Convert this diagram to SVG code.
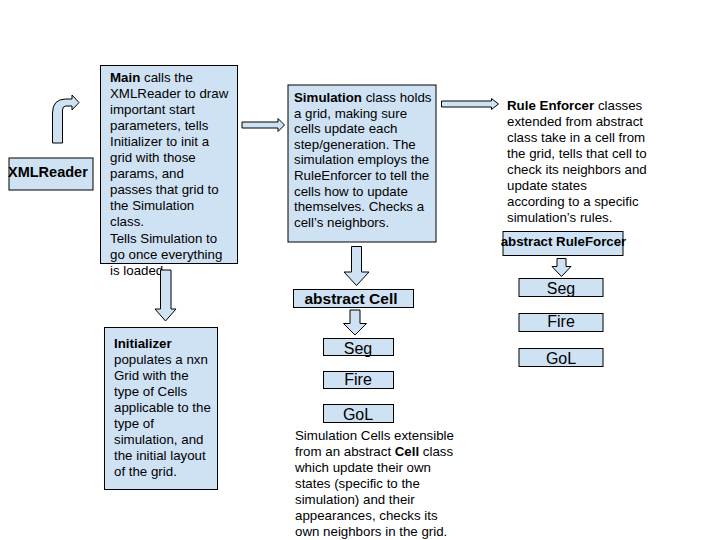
<svg xmlns="http://www.w3.org/2000/svg" width="720" height="540" viewBox="0 0 720 540">
<style>
  .box { fill: #cfe2f3; stroke: #000; stroke-width: 1; }
  .arrow { fill: #cfe2f3; stroke: #000; stroke-width: 1; stroke-linejoin: miter; }
  text { font-family: "Liberation Sans", Arial, sans-serif; fill: #000; }
  .t13 { font-size: 13.3px; }
  .b { font-weight: bold; }
  .lbl { font-size: 16px; text-anchor: middle; }
  .blbl { font-size: 14.5px; font-weight: bold; }
</style>
<rect x="0" y="0" width="720" height="540" fill="#fff"/>

<g id="xmlreader">
  <rect class="box" x="9" y="158" width="84" height="32"/>
  <text class="blbl" x="8" y="177">XMLReader</text>
</g>

<g id="main">
  <rect class="box" x="100.5" y="65.5" width="137" height="198"/>
  <text class="t13">
    <tspan x="110" y="82"><tspan class="b">Main</tspan> calls the</tspan>
    <tspan x="110" y="98">XMLReader to draw</tspan>
    <tspan x="110" y="114">important start</tspan>
    <tspan x="110" y="130">parameters, tells</tspan>
    <tspan x="110" y="146">Initializer to init a</tspan>
    <tspan x="110" y="162">grid with those</tspan>
    <tspan x="110" y="178">params, and</tspan>
    <tspan x="110" y="194">passes that grid to</tspan>
    <tspan x="110" y="210">the Simulation</tspan>
    <tspan x="110" y="226">class.</tspan>
    <tspan x="110" y="243">Tells Simulation to</tspan>
    <tspan x="110" y="259">go once everything</tspan>
    <tspan x="110" y="275">is loaded</tspan>
  </text>
</g>

<g id="simulation">
  <rect class="box" x="288" y="85" width="148" height="157"/>
  <text class="t13">
    <tspan x="294" y="102"><tspan class="b">Simulation</tspan> class holds</tspan>
    <tspan x="294" y="117.5">a grid, making sure</tspan>
    <tspan x="294" y="133">cells update each</tspan>
    <tspan x="294" y="148.5">step/generation. The</tspan>
    <tspan x="294" y="164">simulation employs the</tspan>
    <tspan x="294" y="180">RuleEnforcer to tell the</tspan>
    <tspan x="294" y="195.5">cells how to update</tspan>
    <tspan x="294" y="211">themselves. Checks a</tspan>
    <tspan x="294" y="227">cell’s neighbors.</tspan>
  </text>
</g>

<g id="rule-enforcer-text">
  <text class="t13">
    <tspan x="507" y="110"><tspan class="b">Rule Enforcer</tspan> classes</tspan>
    <tspan x="507" y="126">extended from abstract</tspan>
    <tspan x="507" y="142">class take in a cell from</tspan>
    <tspan x="507" y="158">the grid, tells that cell to</tspan>
    <tspan x="507" y="174">check its neighbors and</tspan>
    <tspan x="507" y="190">update states</tspan>
    <tspan x="507" y="206">according to a specific</tspan>
    <tspan x="507" y="222">simulation’s rules.</tspan>
  </text>
</g>

<g id="abstract-ruleforcer">
  <rect class="box" x="503" y="231.5" width="120" height="24"/>
  <text class="t13 b" x="563.5" y="245.5" text-anchor="middle">abstract RuleForcer</text>
</g>

<g id="rf-seg">
  <rect class="box" x="519" y="278.5" width="84" height="18"/>
  <text class="lbl" x="561" y="293.5">Seg</text>
</g>
<g id="rf-fire">
  <rect class="box" x="519" y="313.5" width="84" height="18"/>
  <text class="lbl" x="561" y="327">Fire</text>
</g>
<g id="rf-gol">
  <rect class="box" x="519" y="348.5" width="84" height="18"/>
  <text class="lbl" x="561" y="364">GoL</text>
</g>

<g id="abstract-cell">
  <rect class="box" x="293.5" y="289.5" width="120" height="18"/>
  <text class="b" x="351" y="304" font-size="15.5" text-anchor="middle">abstract Cell</text>
</g>

<g id="cell-seg">
  <rect class="box" x="323.5" y="338.5" width="70" height="17"/>
  <text class="lbl" x="358" y="353.5">Seg</text>
</g>
<g id="cell-fire">
  <rect class="box" x="323.5" y="371.5" width="70" height="17"/>
  <text class="lbl" x="358" y="385">Fire</text>
</g>
<g id="cell-gol">
  <rect class="box" x="323.5" y="404.5" width="70" height="18"/>
  <text class="lbl" x="358" y="420">GoL</text>
</g>

<g id="initializer">
  <rect class="box" x="104.5" y="327.5" width="113" height="162"/>
  <text class="t13">
    <tspan x="114" y="348" class="b">Initializer</tspan>
    <tspan x="114" y="364">populates a nxn</tspan>
    <tspan x="114" y="380">Grid with the</tspan>
    <tspan x="114" y="396">type of Cells</tspan>
    <tspan x="114" y="412">applicable to the</tspan>
    <tspan x="114" y="428">type of</tspan>
    <tspan x="114" y="444">simulation, and</tspan>
    <tspan x="114" y="460">the initial layout</tspan>
    <tspan x="114" y="476">of the grid.</tspan>
  </text>
</g>

<g id="cells-note">
  <text class="t13">
    <tspan x="295" y="440">Simulation Cells extensible</tspan>
    <tspan x="295" y="456">from an abstract <tspan class="b">Cell</tspan> class</tspan>
    <tspan x="295" y="472">which update their own</tspan>
    <tspan x="295" y="488">states (specific to the</tspan>
    <tspan x="295" y="504">simulation) and their</tspan>
    <tspan x="295" y="520">appearances, checks its</tspan>
    <tspan x="295" y="536">own neighbors in the grid.</tspan>
  </text>
</g>

<g id="connectors">
  <path class="arrow" d="M52.5 143 L52.5 113 Q52.5 99 66 99 L72 99 L72 95 L79 102.5 L72 110 L72 106 L66 106 Q62.5 106 62.5 110 L62.5 143 Z"/>
  <path class="arrow" d="M242 122 L278 122 L278 118.5 L284.5 125 L278 131.5 L278 128 L242 128 Z"/>
  <path class="arrow" d="M441.5 101 L491.5 101 L491.5 98.5 L498.5 104 L491.5 109.5 L491.5 107 L441.5 107 Z"/>
  <path class="arrow" d="M160.5 270 L171 270 L171 309 L176 309 L165.5 321 L155 309 L160.5 309 Z"/>
  <path class="arrow" d="M351.5 246.5 L361.5 246.5 L361.5 272 L369 272 L356.5 285.5 L344 272 L351.5 272 Z"/>
  <path class="arrow" d="M350 310 L360 310 L360 323.5 L366.5 323.5 L355 335 L343.5 323.5 L350 323.5 Z"/>
  <path class="arrow" d="M557 258.5 L566 258.5 L566 266.5 L571 266.5 L561.5 276.5 L552 266.5 L557 266.5 Z"/>
</g>
</svg>
